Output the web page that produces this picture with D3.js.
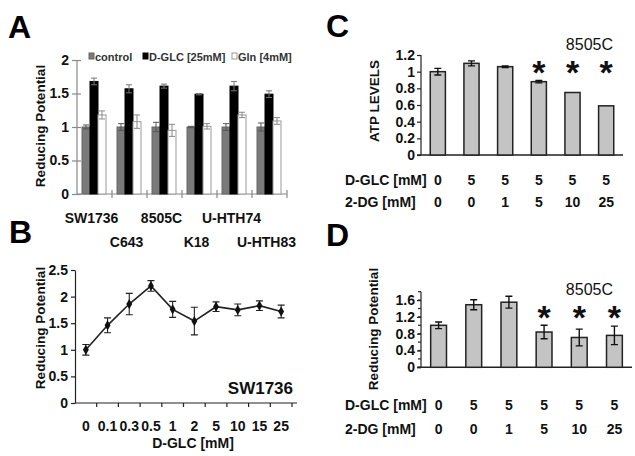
<!DOCTYPE html>
<html><head><meta charset="utf-8">
<script src="https://cdn.jsdelivr.net/npm/d3@7"></script>
<style>
html,body{margin:0;padding:0;background:#fff;}
svg{display:block;font-family:"Liberation Sans",Arial,sans-serif;}
</style></head>
<body>
<svg id="fig" width="635" height="456"></svg>
<script>
// ---------- Panel A data ----------
const cellLines = ["SW1736","C643","8505C","K18","U-HTH74","U-HTH83"];
const seriesA = ["control","D-GLC [25mM]","Gln [4mM]"];
const controlVals = [1.00,1.00,1.00,1.00,1.00,1.00];
const controlErr  = [0.03,0.05,0.07,0.01,0.05,0.06];
const dglcVals    = [1.68,1.57,1.61,1.49,1.61,1.49];
const dglcErr     = [0.05,0.06,0.03,0.01,0.07,0.05];
const glnVals     = [1.18,1.08,0.95,1.01,1.18,1.09];
const glnErr      = [0.06,0.10,0.09,0.04,0.04,0.05];
const aTicks = [0,0.5,1,1.5,2];
// ---------- Panel B data ----------
const doses = ["0","0.1","0.3","0.5","1","2","5","10","15","25"];
const bVals = [1.00,1.46,1.86,2.20,1.76,1.54,1.81,1.75,1.83,1.72];
const bErr  = [0.10,0.14,0.20,0.10,0.15,0.26,0.09,0.11,0.09,0.12];
const bTicks = [0,0.5,1,1.5,2,2.5];
// ---------- Panels C / D data ----------
const dglcRow = ["0","5","5","5","5","5"];
const dgRow   = ["0","0","1","5","10","25"];
const atpVals = [1.00,1.10,1.06,0.88,0.75,0.59];
const atpErr  = [0.04,0.03,0.01,0.015,0,0];
const dVals   = [1.00,1.49,1.55,0.84,0.71,0.76];
const dErr    = [0.08,0.12,0.14,0.16,0.20,0.22];
const signif  = [false,false,false,true,true,true];
const cTicks = [0,0.2,0.4,0.6,0.8,1,1.2];
const dTicks = [0,0.4,0.8,1.2,1.6];
const dMinor = [0,0.2,0.4,0.6,0.8,1,1.2,1.4,1.6,1.8];

const svg = d3.select("#fig");
svg.append("rect").attr("width",635).attr("height",456).attr("fill","#fff");

function letter(t,x,y){
  svg.append("text").attr("x",x).attr("y",y).text(t)
    .attr("font-size",32).attr("font-weight","bold").attr("fill","#000");
}
function yLabel(t,x,y){
  svg.append("text").attr("transform",`translate(${x},${y}) rotate(-90)`)
    .attr("text-anchor","middle").attr("dominant-baseline","central")
    .attr("font-size",13.5).attr("font-weight","bold").attr("fill","#111").text(t);
}
function styleAxis(g,color,fs){
  g.select(".domain").attr("stroke",color).attr("stroke-width",1.2);
  g.selectAll(".tick line").attr("stroke",color).attr("stroke-width",1.2);
  g.selectAll(".tick text").attr("font-size",fs).attr("font-weight","bold").attr("fill","#111")
    .attr("font-family",'"Liberation Sans",Arial,sans-serif');
}

// ================= Panel A =================
letter("A",8,38);
const xA = d3.scaleBand().domain(cellLines).range([77,287]);
const xAin = d3.scaleBand().domain(seriesA).range([5,29]);
const yA = d3.scaleLinear().domain([0,2]).range([194,60]);
const gAy = svg.append("g").attr("transform","translate(77,0)")
  .call(d3.axisLeft(yA).tickValues(aTicks).tickSize(5).tickPadding(3).tickFormat(d3.format("")).tickSizeOuter(0));
styleAxis(gAy,"#888",14);
gAy.selectAll(".tick line").attr("x1",4);
gAy.select(".domain").attr("d","M0,"+yA(2)+"V"+yA(0));
// x axis line with boundary ticks
svg.append("line").attr("x1",xA.range()[0]).attr("x2",xA.range()[1])
  .attr("y1",yA(0)).attr("y2",yA(0)).attr("stroke","#888").attr("stroke-width",1.2);
const boundsA = cellLines.map(c=>xA(c)).concat([xA.range()[1]]).slice(1);
svg.selectAll(".abnd").data(boundsA).enter().append("line")
  .attr("x1",d=>d).attr("x2",d=>d).attr("y1",yA(0)-4).attr("y2",yA(0)+4)
  .attr("stroke","#888").attr("stroke-width",1.2);
const aSeriesData = [
  {name:seriesA[0],vals:controlVals,err:controlErr,fill:"#7a7a7a",stroke:"#666",ec:"#555"},
  {name:seriesA[1],vals:dglcVals,err:dglcErr,fill:"#000",stroke:"#000",ec:"#777"},
  {name:seriesA[2],vals:glnVals,err:glnErr,fill:"#fff",stroke:"#999",ec:"#888"}
];
aSeriesData.forEach(s=>{
  const rows = cellLines.map((c,i)=>({c,v:s.vals[i],e:s.err[i]}));
  const g = svg.append("g");
  g.selectAll("rect").data(rows).enter().append("rect")
    .attr("x",d=>xA(d.c)+xAin(s.name)).attr("width",xAin.bandwidth())
    .attr("y",d=>yA(d.v)).attr("height",d=>yA(0)-yA(d.v))
    .attr("fill",s.fill).attr("stroke",s.stroke).attr("stroke-width",1);
  const cx = d=>xA(d.c)+xAin(s.name)+xAin.bandwidth()/2;
  g.selectAll(".eb").data(rows).enter().append("path")
    .attr("d",d=>`M${cx(d)},${yA(d.v-d.e)}V${yA(d.v+d.e)}M${cx(d)-3},${yA(d.v+d.e)}H${cx(d)+3}M${cx(d)-3},${yA(d.v-d.e)}H${cx(d)+3}`)
    .attr("stroke",s.ec).attr("stroke-width",1).attr("fill","none");
});
// legend
const legX = [89,143,232];
aSeriesData.forEach((s,i)=>{
  svg.append("rect").attr("x",legX[i]).attr("y",53).attr("width",5).attr("height",6)
    .attr("fill",s.fill).attr("stroke",s.stroke).attr("stroke-width",1);
  svg.append("text").attr("x",legX[i]+6).attr("y",60.5).text(s.name)
    .attr("font-size",11).attr("font-weight","bold").attr("fill","#333");
});
yLabel("Reducing Potential",40,126);
cellLines.forEach((c,i)=>{
  svg.append("text").attr("x",xA(c)+xA.bandwidth()/2-3).attr("y",i%2===0?223:247)
    .attr("text-anchor","middle").attr("font-size",14).attr("font-weight","bold").attr("fill","#111").text(c);
});

// ================= Panel B =================
letter("B",9,243);
const xB = d3.scaleBand().domain(doses).range([75,292]);
const yB = d3.scaleLinear().domain([0,2.5]).range([403,270]);
const gBy = svg.append("g").attr("transform","translate(75,0)")
  .call(d3.axisLeft(yB).tickValues(bTicks).tickSize(4).tickPadding(3).tickFormat(d3.format("")).tickSizeOuter(0));
styleAxis(gBy,"#222",14);
const gBx = svg.append("g").attr("transform",`translate(0,${yB(0)})`)
  .call(d3.axisBottom(xB).tickSize(0).tickPadding(18));
gBx.select(".domain").attr("d",`M75,0H297`);
styleAxis(gBx,"#222",14);
const boundsB = doses.map(d=>xB(d)).slice(1).concat([xB.range()[1]]);
svg.selectAll(".bbnd").data(boundsB).enter().append("line")
  .attr("x1",d=>d).attr("x2",d=>d).attr("y1",yB(0)).attr("y2",yB(0)+4)
  .attr("stroke","#222").attr("stroke-width",1.2);
const bRows = doses.map((d,i)=>({d,v:bVals[i],e:bErr[i]}));
const bx = d=>xB(d.d)+xB.bandwidth()/2;
svg.append("path").datum(bRows)
  .attr("d",d3.line().x(bx).y(d=>yB(d.v)))
  .attr("fill","none").attr("stroke","#222").attr("stroke-width",1.6);
svg.selectAll(".beb").data(bRows).enter().append("path")
  .attr("d",d=>`M${bx(d)},${yB(d.v-d.e)}V${yB(d.v+d.e)}M${bx(d)-3.5},${yB(d.v+d.e)}H${bx(d)+3.5}M${bx(d)-3.5},${yB(d.v-d.e)}H${bx(d)+3.5}`)
  .attr("stroke","#222").attr("stroke-width",1.1).attr("fill","none");
svg.selectAll(".bpt").data(bRows).enter().append("path")
  .attr("transform",d=>`translate(${bx(d)},${yB(d.v)})`)
  .attr("d",d3.symbol().type(d3.symbolDiamond).size(30)).attr("fill","#111");
svg.append("text").attr("x",193).attr("y",448).attr("text-anchor","middle")
  .attr("font-size",14).attr("font-weight","bold").attr("fill","#111").text("D-GLC [mM]");
svg.append("text").attr("x",293).attr("y",394).attr("text-anchor","end")
  .attr("font-size",17).attr("font-weight","bold").attr("fill","#111").text("SW1736");
yLabel("Reducing Potential",40,328);

// ================= Panels C & D =================
function barPanel(opt){
  const idx = d3.range(opt.vals.length).map(String);
  const x = d3.scaleBand().domain(idx).range([421,opt.xEnd]).paddingInner(0.55).paddingOuter(0.275);
  const y = d3.scaleLinear().domain(opt.domain).range([opt.y0,opt.y1]);
  const gy = svg.append("g").attr("transform","translate(421,0)")
    .call(d3.axisLeft(y).tickValues(opt.ticks).tickSize(4).tickPadding(2).tickFormat(d3.format("")).tickSizeOuter(0));
  styleAxis(gy,"#222",14);
  gy.select(".domain").attr("d",`M0,${y(opt.domain[1])}V${y(0)}`);
  if(opt.minor){
    gy.selectAll(".mn").data(opt.minor).enter().append("line")
      .attr("x1",-3).attr("x2",0).attr("y1",d=>y(d)).attr("y2",d=>y(d)).attr("stroke","#222").attr("stroke-width",1.2);
  }
  svg.append("line").attr("x1",417).attr("x2",opt.xEnd).attr("y1",y(0)).attr("y2",y(0))
    .attr("stroke","#222").attr("stroke-width",1.4);
  const rows = idx.map((k,i)=>({k,v:opt.vals[i],e:opt.err[i],s:signif[i]}));
  const cx = d=>x(d.k)+x.bandwidth()/2;
  svg.selectAll(null).data(rows).enter().append("rect")
    .attr("x",d=>x(d.k)).attr("width",x.bandwidth())
    .attr("y",d=>y(d.v)).attr("height",d=>y(0)-y(d.v))
    .attr("fill","#c4c4c4").attr("stroke","#222").attr("stroke-width",1.5);
  svg.selectAll(null).data(rows.filter(d=>d.e>0)).enter().append("path")
    .attr("d",d=>`M${cx(d)},${y(d.v-d.e)}V${y(d.v+d.e)}M${cx(d)-3.5},${y(d.v+d.e)}H${cx(d)+3.5}M${cx(d)-3.5},${y(d.v-d.e)}H${cx(d)+3.5}`)
    .attr("stroke","#111").attr("stroke-width",1.4).attr("fill","none");
  svg.selectAll(null).data(rows.filter(d=>d.s)).enter().append("text")
    .attr("x",cx).attr("y",opt.starY).attr("text-anchor","middle")
    .attr("font-size",34).attr("font-weight","bold").attr("fill","#111").text("*");
  svg.append("text").attr("x",613).attr("y",opt.tagY).attr("text-anchor","end")
    .attr("font-size",16).attr("fill","#111").text("8505C");
  svg.append("text").attr("x",345).attr("y",opt.row1).attr("font-size",14).attr("font-weight","bold").attr("fill","#111").text("D-GLC [mM]");
  svg.append("text").attr("x",345).attr("y",opt.row2).attr("font-size",14).attr("font-weight","bold").attr("fill","#111").text("2-DG [mM]");
  svg.selectAll(null).data(rows).enter().append("text")
    .attr("x",cx).attr("y",opt.row1).attr("text-anchor","middle")
    .attr("font-size",14).attr("font-weight","bold").attr("fill","#111").text((d,i)=>dglcRow[i]);
  svg.selectAll(null).data(rows).enter().append("text")
    .attr("x",cx).attr("y",opt.row2).attr("text-anchor","middle")
    .attr("font-size",14).attr("font-weight","bold").attr("fill","#111").text((d,i)=>dgRow[i]);
}
letter("C",326,37);
barPanel({vals:atpVals,err:atpErr,domain:[0,1.2],ticks:cTicks,y0:155,y1:55,xEnd:623,
  starY:84,tagY:50,row1:185,row2:207});
yLabel("ATP LEVELS",374,101);
letter("D",326,246);
barPanel({vals:dVals,err:dErr,domain:[0,1.8],ticks:dTicks,minor:dMinor,y0:367.3,y1:291.7,xEnd:632,
  starY:329,tagY:295,row1:410,row2:434});
yLabel("Reducing Potential",373,329);
</script>
</body></html>
